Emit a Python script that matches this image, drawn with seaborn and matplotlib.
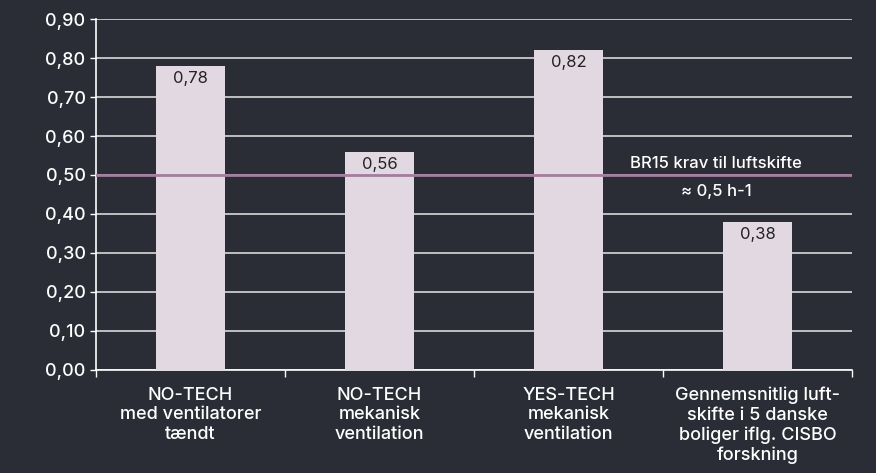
import matplotlib
matplotlib.use("Agg")
import matplotlib.pyplot as plt
import seaborn as sns
import pandas as pd
from matplotlib.ticker import FuncFormatter, FixedLocator

# Data
categories = [
    "NO-TECH\nmed ventilatorer\ntændt",
    "NO-TECH\nmekanisk\nventilation",
    "YES-TECH\nmekanisk\nventilation",
    "Gennemsnitlig luft-\nskifte i 5 danske\nboliger iflg. CISBO\nforskning",
]
values = [0.78, 0.56, 0.82, 0.38]
requirement = 0.5
req_label = "BR15 krav til luftskifte"
req_sub = "≈ 0,5 h-1"

BG = "#2a2d35"
BAR = "#e2d8e2"
LINE = "#a47c9f"

sns.set_style("dark")
plt.rcParams["font.family"] = ["Inter", "DejaVu Sans"]

df = pd.DataFrame({"cat": categories, "val": values})

fig = plt.figure(figsize=(8.76, 4.73), dpi=100, facecolor=BG)
ax = fig.add_axes([0.1096, 0.2178, 0.863, 0.742])
ax.set_facecolor(BG)

sns.barplot(data=df, x="cat", y="val", color=BAR, width=0.37, saturation=1,
            linewidth=0, ax=ax, zorder=3)

ax.set_ylim(0, 0.9)
ax.set_xlim(-0.5, len(categories) - 0.5)
ax.set_yticks([i / 10 for i in range(10)])
ax.yaxis.set_major_formatter(FuncFormatter(lambda v, p: f"{v:.2f}".replace(".", ",")))
ax.grid(axis="y", color="#d8d8d8", linewidth=1.2, zorder=0)
ax.grid(axis="x", visible=False)

for i, v in enumerate(values):
    ax.text(i, v - 0.013, f"{v:.2f}".replace(".", ","), ha="center", va="top",
            fontsize=12, color="#222222", zorder=4)

ax.axhline(requirement, color=LINE, linewidth=2, zorder=5)
ax.text(2.78, requirement + 0.01, req_label, ha="center", va="bottom",
        fontsize=12, color="white", fontweight="medium")
ax.text(2.78, requirement - 0.022, req_sub, ha="center", va="top",
        fontsize=12, color="white", fontweight="medium")

ax.set_xlabel("")
ax.set_ylabel("")
ax.tick_params(axis="y", colors="white", labelsize=13, length=4, width=1,
               direction="out", left=True)
ax.tick_params(axis="x", colors="white", labelsize=13, length=0, pad=12)
for lab in ax.get_xticklabels():
    lab.set_linespacing(1.2)
    lab.set_fontweight("medium")
for lab in ax.get_yticklabels():
    lab.set_fontweight("medium")
ax.xaxis.set_minor_locator(FixedLocator([-0.5, 0.5, 1.5, 2.5, 3.5]))
ax.tick_params(axis="x", which="minor", bottom=True, length=5, width=1, color="white")

for s in ["top", "right"]:
    ax.spines[s].set_visible(False)
for s in ["left", "bottom"]:
    ax.spines[s].set_color("white")
    ax.spines[s].set_linewidth(1.2)

fig.savefig("out.png", dpi=100, facecolor=BG)
